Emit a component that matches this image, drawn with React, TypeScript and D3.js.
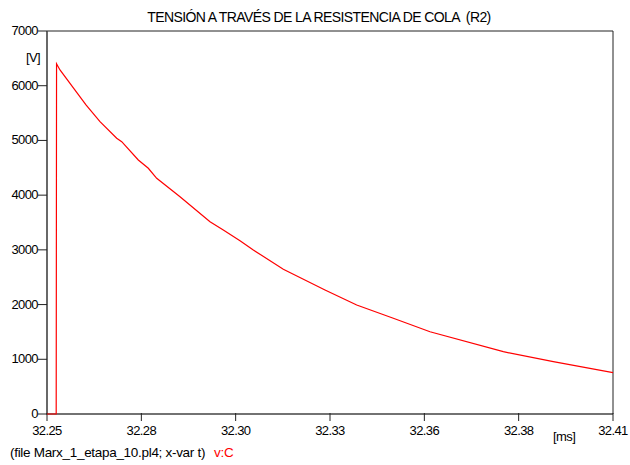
import React, { useEffect, useRef } from "react";
import * as d3 from "d3";

// time in ms, voltage in V
const times = [
  32.25, 32.2526, 32.2527, 32.25367, 32.26102, 32.26498, 32.2697,
  32.27112, 32.27581, 32.27864, 32.28101, 32.2876, 32.29608, 32.29984,
  32.30456, 32.30832, 32.3168, 32.32859, 32.33755, 32.3479, 32.35827,
  32.37899, 32.39313, 32.41,
];
const volts = [
  0, 0, 6400, 6288, 5648, 5343, 5039, 4977, 4643, 4491, 4308, 3972,
  3515, 3363, 3168, 2998, 2645, 2267, 1992, 1749, 1504, 1139, 956, 755,
];
const xTicks = [32.25, 32.27667, 32.30333, 32.33, 32.35667, 32.38333, 32.41];
const yTicks = [0, 1000, 2000, 3000, 4000, 5000, 6000, 7000];

const title = "TENSIÓN A TRAVÉS DE LA RESISTENCIA DE COLA  (R2)";

export default function App() {
  const svgRef = useRef<SVGSVGElement>(null);
  const width = 630;
  const height = 465;

  useEffect(() => {
    if (!svgRef.current) return;
    const svg = d3.select(svgRef.current);
    svg.selectAll("*").remove();

    const left = 47;
    const right = 613;
    const top = 31;
    const bottom = 414;
    const font = "'Liberation Sans', Arial, sans-serif";

    const x = d3.scaleLinear().domain([32.25, 32.41]).range([left, right]);
    const y = d3.scaleLinear().domain([0, 7000]).range([bottom, top]);

    svg.append("rect").attr("width", width).attr("height", height).attr("fill", "#fff");

    // title
    svg
      .append("text")
      .attr("x", 319)
      .attr("y", 22)
      .attr("text-anchor", "middle")
      .attr("font-family", font)
      .attr("font-size", 14)
      .attr("letter-spacing", -0.6)
      .attr("fill", "#000")
      .style("white-space", "pre")
      .text(title);

    // frame
    svg
      .append("path")
      .attr("d", `M${left},${top}H${right}V${bottom}`)
      .attr("fill", "none")
      .attr("stroke", "#222")
      .attr("stroke-width", 1);
    svg
      .append("path")
      .attr("d", `M${left},${top}V${bottom}H${right}`)
      .attr("fill", "none")
      .attr("stroke", "#444")
      .attr("stroke-width", 1.6);

    // y ticks
    const gy = svg.append("g");
    yTicks.forEach((v) => {
      gy.append("line")
        .attr("x1", left - 9)
        .attr("x2", left)
        .attr("y1", y(v))
        .attr("y2", y(v))
        .attr("stroke", "#222");
      gy.append("text")
        .attr("x", left - 9)
        .attr("y", y(v) + 4)
        .attr("text-anchor", "end")
        .attr("font-family", font)
        .attr("font-size", 13)
        .attr("letter-spacing", -0.6)
        .text(v);
    });

    // x ticks
    const gx = svg.append("g");
    xTicks.forEach((t) => {
      gx.append("line")
        .attr("x1", x(t))
        .attr("x2", x(t))
        .attr("y1", bottom - 1)
        .attr("y2", bottom + 7)
        .attr("stroke", "#222");
      gx.append("text")
        .attr("x", x(t))
        .attr("y", bottom + 21)
        .attr("text-anchor", "middle")
        .attr("font-family", font)
        .attr("font-size", 13)
        .attr("letter-spacing", -0.6)
        .text(d3.format(".2f")(t));
    });

    // units
    svg
      .append("text")
      .attr("x", 26)
      .attr("y", 62)
      .attr("font-family", font)
      .attr("font-size", 13)
      .attr("letter-spacing", -0.6)
      .text("[V]");
    svg
      .append("text")
      .attr("x", 553)
      .attr("y", 441)
      .attr("font-family", font)
      .attr("font-size", 13)
      .attr("letter-spacing", -0.6)
      .text("[ms]");

    // curve
    const pts = times.map((t, i) => [t, volts[i]] as [number, number]);
    const line = d3
      .line<[number, number]>()
      .x((d) => x(d[0]))
      .y((d) => y(d[1]))
      .curve(d3.curveLinear);
    svg
      .append("path")
      .datum(pts)
      .attr("fill", "none")
      .attr("stroke", "#ff0000")
      .attr("stroke-width", 1.2)
      .attr("d", line);

    // footer
    const foot = svg
      .append("text")
      .attr("x", 10)
      .attr("y", 457)
      .attr("font-family", font)
      .attr("font-size", 13.5)
      .attr("letter-spacing", -0.3);
    foot.append("tspan").attr("fill", "#000").text("(file Marx_1_etapa_10.pl4; x-var t)");
    foot.append("tspan").attr("fill", "#ff0000").attr("dx", 9).text("v:C");
  }, []);

  return (
    <svg
      ref={svgRef}
      width={width}
      height={height}
      style={{ position: "absolute", left: 0, top: 0 }}
    />
  );
}
